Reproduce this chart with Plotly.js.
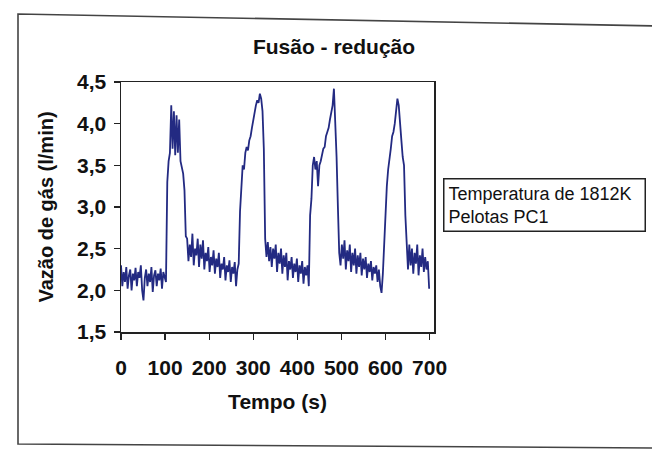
<!DOCTYPE html>
<html>
<head>
<meta charset="utf-8">
<script src="https://cdn.plot.ly/plotly-3.0.1.min.js"></script>
<style>
  html, body { margin: 0; padding: 0; background: #ffffff; }
  #chart { width: 652px; height: 452px; }
</style>
</head>
<body>
<div id="chart"></div>
<script>
// Sampling of the recorded signal (s)
const sampleStep = 3;

// Gas flow (l/min), one value every 3 s, in time order
const base0   = [2.30,2.05,2.22,2.10,2.28,2.02,2.18,2.25,2.00,2.20,2.12,2.27,2.05,2.22,2.15,2.30,2.00,1.88,2.15,2.25,2.05,2.20,2.10,2.28,1.98,2.18,2.24,2.05,2.20,2.12,2.26,2.02,2.22,2.15,2.10];
const peak1   = [3.30,3.55,3.65,4.22,3.70,4.15,3.62,4.10,3.65,4.05,3.55,3.45,3.40,3.20,2.65];
const base1   = [2.62,2.35,2.55,2.40,2.68,2.30,2.50,2.42,2.62,2.28,2.55,2.38,2.60,2.25,2.45,2.35,2.52,2.22,2.40,2.30,2.48,2.20,2.38,2.28,2.45,2.15,2.32,2.25,2.40,2.12,2.30,2.22,2.36,2.10,2.28,2.20,2.34,2.05,2.25,2.32];
const peak2   = [2.95,3.25,3.50,3.45,3.65,3.72,3.68,3.80,3.85,3.95,4.05,4.10,4.22,4.28,4.25,4.36,4.30,4.15,3.70];
const base2   = [2.62,2.40,2.58,2.35,2.52,2.28,2.50,2.38,2.55,2.22,2.45,2.32,2.50,2.20,2.42,2.28,2.45,2.12,2.35,2.25,2.40,2.15,2.32,2.22,2.38,2.10,2.30,2.20,2.35,2.08,2.28,2.18,2.30,2.05];
const peak3   = [2.90,3.10,3.50,3.60,3.45,3.55,3.25,3.50,3.55,3.65,3.70,3.72,3.85,3.90,3.95,4.05,4.15,4.22,4.42,4.10,3.60,3.00];
const base3   = [2.45,2.30,2.55,2.38,2.60,2.25,2.48,2.35,2.55,2.22,2.45,2.30,2.50,2.20,2.42,2.28,2.45,2.18,2.38,2.25,2.40,2.15,2.32,2.22,2.35,2.12,2.28,2.20,2.30,2.10,2.25,2.05,1.97,2.20];
const peak4   = [2.60,3.00,3.25,3.45,3.55,3.70,3.85,3.90,4.00,4.15,4.30,4.22,4.05,3.80,3.60,3.50,2.90];
const base4   = [2.45,2.25,2.55,2.30,2.50,2.20,2.45,2.32,2.55,2.18,2.42,2.28,2.50,2.22,2.40,2.25,2.35,2.02];

const flow = [].concat(base0, peak1, base1, peak2, base2, peak3, base3, peak4, base4);
const time = flow.map((_, i) => i * sampleStep);

const xTicks = [0, 100, 200, 300, 400, 500, 600, 700];
const yTicks = [1.5, 2.0, 2.5, 3.0, 3.5, 4.0, 4.5];

const chartTitle = 'Fusão - redução';
const xTitle = 'Tempo (s)';
const yTitle = 'Vazão de gás (l/min)';
const noteLines = ['Temperatura de 1812K', 'Pelotas PC1'];

// layout geometry (pixels)
const W = 652, H = 452;
const ml = 121, mr = 218, mt = 82, mb = 120;
const pw = W - ml - mr, ph = H - mt - mb;
const px = v => (v - ml) / pw;
const py = v => (H - mb - v) / ph;

const FONT = 'Arial, "Liberation Sans", sans-serif';

const trace = {
  x: time, y: flow, type: 'scatter', mode: 'lines',
  line: { color: '#232a82', width: 1.8 },
  showlegend: false, hoverinfo: 'x+y'
};

const layout = {
  width: W, height: H,
  margin: { l: ml, r: mr, t: mt, b: mb, pad: 0 },
  paper_bgcolor: '#ffffff', plot_bgcolor: '#ffffff',
  separators: ',.',
  font: { family: FONT, color: '#111111' },
  title: {
    text: chartTitle,
    font: { family: FONT, size: 21, weight: 'bold', color: '#111111' },
    xref: 'paper', x: px(334), xanchor: 'center',
    yref: 'container', y: 1 - 47 / H, yanchor: 'middle'
  },
  xaxis: {
    range: [0, 710], tickvals: xTicks, ticktext: xTicks.map(String),
    ticks: 'outside', ticklen: 6, tickwidth: 1.3, tickcolor: '#222',
    showline: true, linecolor: '#222', linewidth: 1.5, mirror: true,
    showgrid: false, zeroline: false,
    ticklabelstandoff: 10,
    tickfont: { family: FONT, size: 21, weight: 'bold', color: '#111' },
    title: { text: xTitle, standoff: 16, font: { family: FONT, size: 21, weight: 'bold', color: '#111' } }
  },
  yaxis: {
    range: [1.5, 4.5], tickvals: yTicks, tickformat: '.1f',
    ticks: 'outside', ticklen: 6, tickwidth: 1.3, tickcolor: '#222',
    showline: true, linecolor: '#222', linewidth: 1.5, mirror: true,
    showgrid: false, zeroline: false,
    ticklabelstandoff: 3,
    tickfont: { family: FONT, size: 21, weight: 'bold', color: '#111' },
    title: { text: yTitle, standoff: 18, font: { family: FONT, size: 20, weight: 'bold', color: '#111' } }
  },
  annotations: [{
    xref: 'paper', yref: 'paper', x: px(443), y: py(178),
    xanchor: 'left', yanchor: 'top', align: 'left', showarrow: false,
    text: noteLines.join('<br>'),
    font: { family: FONT, size: 18, color: '#111' },
    bordercolor: '#222', borderwidth: 1.5, borderpad: 4,
    width: 192, bgcolor: '#ffffff'
  }],
  shapes: [{
    type: 'path', xref: 'paper', yref: 'paper', layer: 'below',
    path: 'M ' + px(660) + ' ' + py(26) + ' L ' + px(18) + ' ' + py(14) +
          ' L ' + px(18) + ' ' + py(444) + ' L ' + px(660) + ' ' + py(448),
    line: { color: '#444', width: 1.6 }
  }]
};

Plotly.newPlot('chart', [trace], layout, { displayModeBar: false, staticPlot: true });
</script>
</body>
</html>
